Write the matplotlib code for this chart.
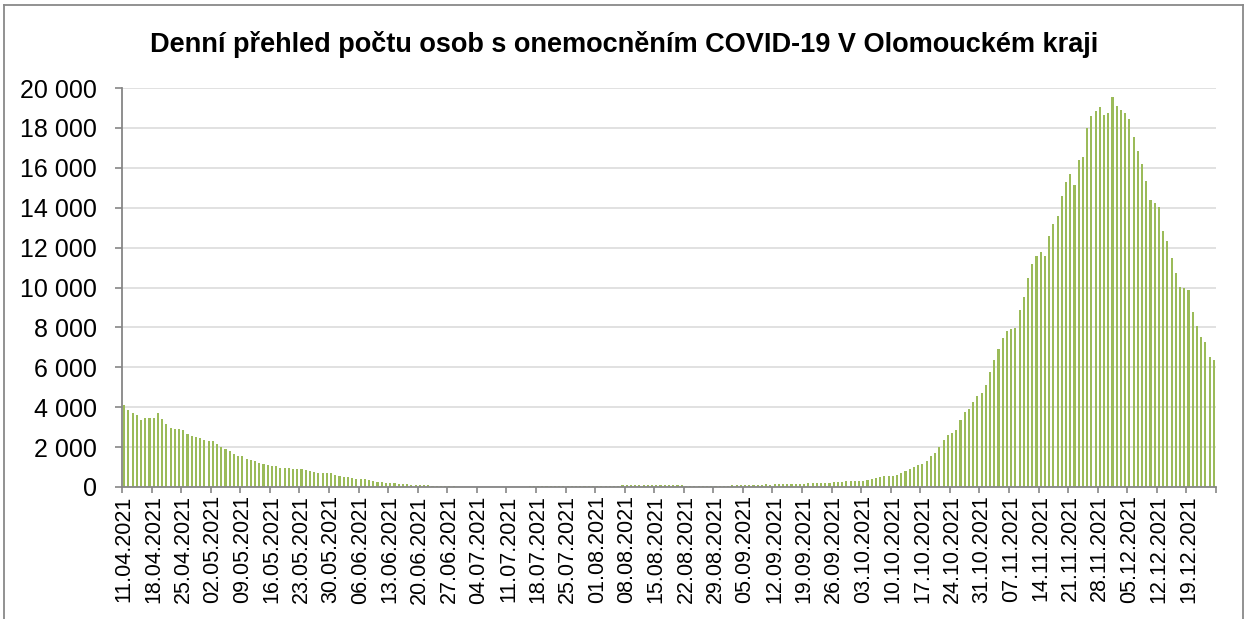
import matplotlib
matplotlib.use("Agg")
import matplotlib.pyplot as plt
from matplotlib.ticker import FuncFormatter
from matplotlib.lines import Line2D
import numpy as np

title = "Denní přehled počtu osob s onemocněním COVID-19 V Olomouckém kraji"

tick_labels = [
    "11.04.2021", "18.04.2021", "25.04.2021", "02.05.2021", "09.05.2021",
    "16.05.2021", "23.05.2021", "30.05.2021", "06.06.2021", "13.06.2021",
    "20.06.2021", "27.06.2021", "04.07.2021", "11.07.2021", "18.07.2021",
    "25.07.2021", "01.08.2021", "08.08.2021", "15.08.2021", "22.08.2021",
    "29.08.2021", "05.09.2021", "12.09.2021", "19.09.2021", "26.09.2021",
    "03.10.2021", "10.10.2021", "17.10.2021", "24.10.2021", "31.10.2021",
    "07.11.2021", "14.11.2021", "21.11.2021", "28.11.2021", "05.12.2021",
    "12.12.2021", "19.12.2021",
]

y_ticks = [0, 2000, 4000, 6000, 8000, 10000, 12000, 14000, 16000, 18000, 20000]

# daily values, 11.04.2021 - 25.12.2021
daily_cases = [
    4120, 3880, 3730, 3620, 3380, 3480, 3470, 3470, 3720, 3420,
    3150, 2970, 2900, 2900, 2880, 2670, 2550, 2530, 2450, 2350,
    2330, 2330, 2150, 1980, 1880, 1800, 1650, 1570, 1570, 1420,
    1330, 1280, 1200, 1130, 1080, 1070, 1070, 970, 950, 930,
    900, 900, 900, 830, 780, 750, 720, 700, 690, 690,
    620, 550, 520, 480, 440, 420, 400, 380, 350, 300,
    270, 240, 220, 200, 180, 170, 150, 130, 120, 110,
    100, 90, 80, 70, 60, 50, 50, 40,
    30, 20, 20, 10, 10, 10, 10, 10, 10, 10, 10, 10, 10, 10, 20,
    20, 20, 20, 30, 30, 30, 30, 30, 30, 30, 30, 40, 30, 40, 40, 40, 40, 40, 40, 50, 40, 50, 50, 50, 60,
    80, 100, 110, 110, 120, 110, 120, 120, 110, 120, 110, 110, 100, 100, 90,
    70, 60, 60, 50, 50, 50, 60, 50, 60, 60,
    70, 80, 80, 90, 80, 90,
    110, 120, 120, 130, 120, 130, 140, 140, 130, 150,
    160, 170, 170, 180,
    190, 200, 210, 200, 220, 230,
    250, 260, 280, 310,
    300, 320, 320, 350, 380, 450, 500, 530, 550, 550, 620,
    720, 800, 900, 1000, 1100, 1140, 1300, 1540, 1690, 2000,
    2360, 2610, 2690, 2860, 3340, 3760, 3910, 4280, 4580, 4720,
    5120, 5770, 6370, 6910, 7460, 7830, 7930, 7990, 8860, 9530,
    10500, 11200, 11590, 11760, 11570, 12590, 13180, 13600, 14570, 15270,
    15690, 15150, 16400, 16560, 17980, 18580, 18860, 19050, 18660, 18750,
    19570, 19110, 18900, 18750, 18440, 17560, 16820, 16170, 15350, 14410,
    14260, 14050, 12840, 12310, 11470, 10720, 10050, 10000, 9880, 8750,
    8080, 7530, 7260, 6540, 6370,
]

plt.rcParams['font.family'] = ['Liberation Sans', 'DejaVu Sans']

W, H = 1248, 619
fig = plt.figure(figsize=(W / 100, H / 100), dpi=100)
ax = fig.add_axes([122 / W, 1 - 487 / H, (1216 - 122) / W, (487 - 88) / H])

x = np.arange(len(daily_cases))
ax.bar(x, daily_cases, width=0.5, color='#9BBB59', linewidth=0, zorder=3)
ax.set_xlim(-0.5, len(daily_cases) - 0.5)
ax.set_ylim(0, 20000)

ax.set_yticks(y_ticks)
ax.yaxis.set_major_formatter(FuncFormatter(lambda v, p: f"{int(v):,}".replace(",", " ")))
ax.grid(axis='y', color='#D9D9D9', linewidth=1.1, zorder=0)
ax.set_axisbelow(True)

label_pos = np.arange(len(tick_labels)) * 7
ax.set_xticks(label_pos)
ax.set_xticklabels(tick_labels, rotation=90, fontsize=15.5)
ax.tick_params(axis='x', which='major', length=0, pad=6)
ax.set_xticks(np.arange(0, len(daily_cases) + 1, 7) - 0.5, minor=True)
ax.tick_params(axis='x', which='minor', length=4.5, width=1.2, color='#868686')
ax.tick_params(axis='y', length=5, width=1.2, color='#868686', labelsize=18, pad=13)

for s in ['top', 'right']:
    ax.spines[s].set_visible(False)
for s in ['left', 'bottom']:
    ax.spines[s].set_color('#868686')
    ax.spines[s].set_linewidth(1.3)
    ax.spines[s].set_zorder(4)

fig.text(0.5, 1 - 44 / H, title, ha='center', va='center', fontsize=19.5, fontweight='bold')

# outer chart border
bx0, bx1, by = 4 / W, 1243 / W, 1 - 5 / H
for xs, ys in [([bx0, bx0], [0, by]), ([bx1, bx1], [0, by]), ([bx0, bx1], [by, by])]:
    fig.add_artist(Line2D(xs, ys, transform=fig.transFigure, color='#898989', lw=1.3))

fig.savefig('out.png', dpi=100)
